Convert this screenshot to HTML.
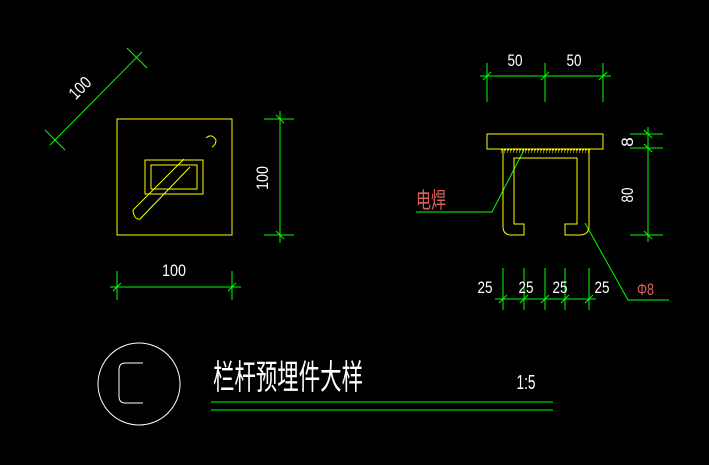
<!DOCTYPE html>
<html><head><meta charset="utf-8"><style>html,body{margin:0;padding:0;background:#000}svg{display:block}</style></head><body>
<svg width="709" height="465" viewBox="0 0 709 465" xmlns="http://www.w3.org/2000/svg" font-family="Liberation Sans, Noto Sans CJK SC, sans-serif">
<rect width="709" height="465" fill="#000"/>
<g stroke="#00ff00" stroke-width="1" fill="none">
<line x1="50" y1="145" x2="142" y2="52"/>
<line x1="45" y1="130" x2="65" y2="150"/><line x1="127" y1="48" x2="147" y2="68"/>
<line x1="280" y1="111" x2="280" y2="243"/>
<line x1="264" y1="119" x2="294" y2="119"/><line x1="264" y1="235" x2="294" y2="235"/>
<line x1="276" y1="115" x2="284" y2="123"/><line x1="276" y1="231" x2="284" y2="239"/>
<line x1="110" y1="287" x2="241" y2="287"/>
<line x1="117" y1="271" x2="117" y2="300"/><line x1="232" y1="271" x2="232" y2="300"/>
<line x1="113" y1="291" x2="121" y2="283"/><line x1="228" y1="291" x2="236" y2="283"/>
<line x1="480" y1="76" x2="611" y2="76"/>
<line x1="487" y1="63" x2="487" y2="102"/><line x1="545" y1="63" x2="545" y2="102"/><line x1="603" y1="63" x2="603" y2="102"/>
<line x1="483" y1="80" x2="491" y2="72"/><line x1="541" y1="80" x2="549" y2="72"/><line x1="599" y1="80" x2="607" y2="72"/>
<line x1="648" y1="127" x2="648" y2="242"/>
<line x1="630" y1="134" x2="663" y2="134"/><line x1="630" y1="148" x2="663" y2="148"/><line x1="630" y1="235" x2="663" y2="235"/>
<line x1="644" y1="130" x2="652" y2="138"/><line x1="644" y1="144" x2="652" y2="152"/><line x1="644" y1="231" x2="652" y2="239"/>
<line x1="495" y1="299" x2="596" y2="299"/>
<line x1="503" y1="268" x2="503" y2="310"/><line x1="524" y1="268" x2="524" y2="310"/><line x1="545" y1="268" x2="545" y2="310"/><line x1="565" y1="268" x2="565" y2="310"/><line x1="589" y1="268" x2="589" y2="310"/>
<line x1="499" y1="303" x2="507" y2="295"/><line x1="520" y1="303" x2="528" y2="295"/><line x1="541" y1="303" x2="549" y2="295"/><line x1="561" y1="303" x2="569" y2="295"/><line x1="585" y1="303" x2="593" y2="295"/>
<polyline points="524,150 492,212 416,212"/>
<polyline points="585,223 628,300 669,300"/>
<line x1="211" y1="402" x2="553" y2="402"/><line x1="211" y1="410" x2="553" y2="410"/>
</g>
<g stroke="#ffff00" stroke-width="1" fill="none">
<rect x="117" y="119" width="115" height="116"/>
<rect x="145" y="160" width="58" height="34"/>
<rect x="151" y="165" width="46" height="24"/>
<path d="M184,159 L133,210 Q134,220 140,219 L190,167"/>
<path d="M206,138 Q212,133 216,140 Q216,145 212,147"/>
<rect x="487" y="134" width="116" height="15"/>
<line x1="501" y1="150" x2="591" y2="150" stroke-dasharray="2,1"/>
<line x1="501" y1="152" x2="591" y2="152" stroke-dasharray="1,2"/>
<path d="M503,150 L503,228 Q504,235 511,235 L524,235 L524,224 L514,224 L514,158 L577,158 L577,224 L565,224 L565,235 L581,235 Q589,234 589,226 L589,150"/>
</g>
<g fill="#fff" font-size="17">
<text x="84" y="92" text-anchor="middle" transform="rotate(-45 84 92)" textLength="24" lengthAdjust="spacingAndGlyphs">100</text>
<text x="262" y="178" text-anchor="middle" transform="rotate(-90 262 178) translate(0 6)" textLength="24" lengthAdjust="spacingAndGlyphs">100</text>
<text x="174" y="276" text-anchor="middle" textLength="24" lengthAdjust="spacingAndGlyphs">100</text>
<text x="515" y="66" text-anchor="middle" textLength="15" lengthAdjust="spacingAndGlyphs">50</text>
<text x="574" y="66" text-anchor="middle" textLength="15" lengthAdjust="spacingAndGlyphs">50</text>
<text x="627" y="142" text-anchor="middle" transform="rotate(-90 627 142) translate(0 6)">8</text>
<text x="627" y="195" text-anchor="middle" transform="rotate(-90 627 195) translate(0 6)" textLength="15" lengthAdjust="spacingAndGlyphs">80</text>
<text x="485" y="293" text-anchor="middle" textLength="15" lengthAdjust="spacingAndGlyphs">25</text>
<text x="526" y="293" text-anchor="middle" textLength="15" lengthAdjust="spacingAndGlyphs">25</text>
<text x="560" y="293" text-anchor="middle" textLength="15" lengthAdjust="spacingAndGlyphs">25</text>
<text x="602" y="293" text-anchor="middle" textLength="15" lengthAdjust="spacingAndGlyphs">25</text>
<text x="526" y="389" text-anchor="middle" font-size="20" textLength="19" lengthAdjust="spacingAndGlyphs">1:5</text>
<text x="213" y="389" font-size="34" textLength="150" lengthAdjust="spacingAndGlyphs">栏杆预埋件大样</text>
</g>
<g fill="#e06060">
<text x="416" y="208" font-size="22" textLength="30" lengthAdjust="spacingAndGlyphs">电焊</text>
<text x="637" y="295" font-size="17" textLength="17" lengthAdjust="spacingAndGlyphs">Φ8</text>
</g>
<g stroke="#fff" fill="none" stroke-width="1">
<circle cx="139" cy="384" r="41"/>
<path d="M143,363 L125,363 Q119,363 119,370 L119,396 Q119,403 125,403 L143,403"/>
</g>
</svg>
</body></html>
